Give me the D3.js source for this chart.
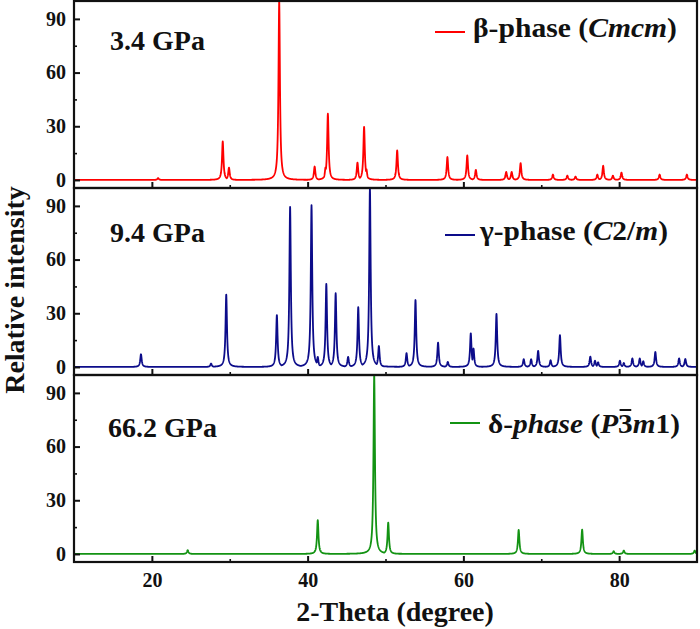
<!DOCTYPE html>
<html><head><meta charset="utf-8">
<script src="https://cdn.jsdelivr.net/npm/d3@7"></script>
<style>
body{margin:0;background:#fff}
svg text{font-family:'Liberation Serif','Tinos','Times New Roman','DejaVu Serif','Noto Serif',serif !important;font-weight:bold;fill:#111}
</style></head><body>
<svg id="c" width="700" height="629"></svg>
<script>
// ---- data (peak positions in 2θ and relative intensities)
const betaPos=[20.8,29.1,29.9,36.35,40.9,42.3,42.6,46.4,47.25,47.55,51.5,57.95,60.5,61.6,65.5,66.2,67.35,71.5,73.35,74.4,77.2,77.95,79.2,80.3,85.2,88.7];
const betaInt=[1,21.5,6.9,100,7.5,7,37,9.7,29.6,6,16.5,12.8,13.7,5.6,4.5,4.5,9.4,3,2.4,1.9,3,7.9,2.4,4.1,3,3];
const gammaPos=[18.6,27.6,29.55,36.05,37.75,40.5,41.3,42.4,43.6,45.2,46.5,48.0,49.15,52.7,53.85,56.75,58.0,60.95,61.3,64.25,67.75,68.7,69.6,71.2,72.4,76.3,76.9,77.3,80.1,80.6,81.7,82.65,83.1,84.65,87.7,88.5];
const gammaInt=[7.1,1.9,40.4,29,89.4,90.4,5.6,46.4,41.2,5.6,33.4,100,11.7,7.7,37.4,13.6,2.8,18.8,10.3,29.6,4.3,4.3,9,3.7,17.8,5.8,3.5,2.6,3.5,2.2,4.8,4.7,3.2,8.4,4.8,4.5];
const deltaPos=[24.6,41.3,48.55,50.35,67.1,75.25,79.3,80.6,89.7];
const deltaInt=[2.1,18.9,100,17.5,13.4,13.6,1.5,1.9,1.9];
const pressures=["3.4 GPa","9.4 GPa","66.2 GPa"];
const colors=["#ff0000","#0c0c8a","#139313"];
const xTicks=[20,40,60,80], xMinor=[30,50,70];
const yTicks=[0,30,60,90], yMinor=[15,45,75];

const FONT="'Liberation Serif','Tinos','Times New Roman','DejaVu Serif','Noto Serif',serif";
const svg=d3.select("#c");
const L=74,R=697, panelTops=[1,188,375], PH=187;
const x=d3.scaleLinear().domain([10,90]).range([L,R]);

// profile: peak shape rendered from the peak list
const HW=0.11;
function profile(pos,inten){
  const xs=d3.range(10,90.0001,0.02).concat(pos).sort((a,b)=>a-b);
  return xs.map(t=>{let m=0;pos.forEach((p,i)=>{const d=(t-p)/HW;const v=inten[i]/(1+d*d);if(v>m)m=v;});return [t,m];});
}
const series=[[betaPos,betaInt],[gammaPos,gammaInt],[deltaPos,deltaInt]];

function styleText(sel){
  sel.attr("font-size",20).attr("font-family",FONT).attr("font-weight","bold").attr("fill","#111");
}

series.forEach((s,k)=>{
  const top=panelTops[k], bot=top+PH;
  const y=d3.scaleLinear().domain([-4.5,100]).range([bot,top]);
  const g=svg.append("g");
  g.append("clipPath").attr("id","cp"+k).append("rect").attr("x",L).attr("y",top).attr("width",R-L).attr("height",PH);
  g.append("path").datum(profile(s[0],s[1])).attr("clip-path","url(#cp"+k+")")
    .attr("fill","none").attr("stroke",colors[k]).attr("stroke-width",1.8).attr("stroke-linejoin","round")
    .attr("d",d3.line().x(d=>x(d[0])).y(d=>y(d[1])));
  // y axis
  const ya=g.append("g").attr("transform",`translate(${L},0)`)
    .call(d3.axisLeft(y).tickValues(yTicks).tickSize(-6).tickPadding(8));
  ya.attr("font-family",null);
  ya.select(".domain").remove();
  ya.selectAll("line").attr("stroke","#111").attr("stroke-width",2);
  styleText(ya.selectAll("text"));
  const ym=g.append("g").attr("transform",`translate(${L},0)`)
    .call(d3.axisLeft(y).tickValues(yMinor).tickSize(-3));
  ym.select(".domain").remove();
  ym.selectAll("text").remove();
  ym.selectAll("line").attr("stroke","#111").attr("stroke-width",1.6);
  // x axis
  const xa=g.append("g").attr("transform",`translate(0,${bot})`)
    .call(d3.axisBottom(x).tickValues(xTicks).tickSize(-6).tickPadding(11).tickFormat(d3.format("d")));
  xa.attr("font-family",null);
  xa.select(".domain").remove();
  xa.selectAll("line").attr("stroke","#111").attr("stroke-width",2);
  if(k===2) styleText(xa.selectAll("text")); else xa.selectAll("text").remove();
  const xm=g.append("g").attr("transform",`translate(0,${bot})`)
    .call(d3.axisBottom(x).tickValues(xMinor).tickSize(-3));
  xm.select(".domain").remove();
  xm.selectAll("text").remove();
  xm.selectAll("line").attr("stroke","#111").attr("stroke-width",1.6);
  // frame
  g.append("rect").attr("x",L).attr("y",top).attr("width",R-L).attr("height",PH)
    .attr("fill","none").attr("stroke","#111").attr("stroke-width",2.2);
});

// pressure labels
const pLab=[[110,50],[110,242],[108,437]];
pressures.forEach((t,k)=>svg.append("text").attr("x",pLab[k][0]).attr("y",pLab[k][1]).attr("font-family",FONT).attr("font-size",28).text(t));

// legends
function legend(k,x1,x2,ly,tx,ty,parts,len){
  svg.append("line").attr("x1",x1).attr("x2",x2).attr("y1",ly).attr("y2",ly).attr("stroke",colors[k]).attr("stroke-width",2);
  const t=svg.append("text").attr("x",tx).attr("y",ty).attr("font-family",FONT).attr("font-size",28);
  parts.forEach(p=>t.append("tspan").style("font-style",p[1]?"italic":"normal").text(p[0]));
  if(len) t.attr("textLength",len).attr("lengthAdjust","spacingAndGlyphs");
  return t;
}
legend(0,435,465,32,473,37,[["β-phase (",0],["Cmcm",1],[")",0]],204);
legend(1,445,475,235,480,240,[["γ-phase (",0],["C",1],["2/",0],["m",1],[")",0]],188);
const lt=legend(2,450,480,423,488,433,[["δ-",0],["phase",1],[" (",0],["P",1],["3",0],["m",1],["1)",0]],192);
// overbar on the "3"
const full=lt.text(); const idx=full.indexOf("3");
const ext=lt.node().getExtentOfChar(idx);
svg.append("line").attr("x1",ext.x+1.5).attr("x2",ext.x+ext.width-1.5).attr("y1",ext.y+2).attr("y2",ext.y+2)
  .attr("stroke","#111").attr("stroke-width",2);

// axis titles
svg.append("text").attr("x",395).attr("y",621).attr("text-anchor","middle").attr("font-family",FONT).attr("font-size",28).text("2-Theta (degree)");
svg.append("text").attr("transform","translate(24,290) rotate(-90)").attr("text-anchor","middle").attr("font-family",FONT).attr("font-size",28).text("Relative intensity");
</script></body></html>
